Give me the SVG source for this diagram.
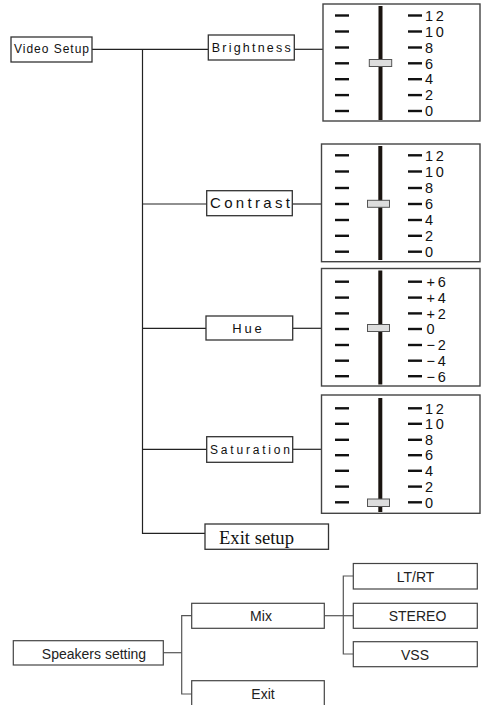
<svg xmlns="http://www.w3.org/2000/svg" width="481" height="705" viewBox="0 0 481 705">
<style>
.box{fill:#fff;stroke:#333;stroke-width:1.3}
.box2{fill:#fff;stroke:#444;stroke-width:1.2}
.panel{fill:#fff;stroke:#444;stroke-width:1.4}
.track{fill:#1a1410}
.knob{fill:#ddd;stroke:#555;stroke-width:1}
.dash{stroke:#111;stroke-width:2.4}
.conn{fill:none;stroke:#222;stroke-width:1.2}
.conn2{fill:none;stroke:#555;stroke-width:1.2}
.lbl{font-family:"Liberation Sans","DejaVu Sans",sans-serif;fill:#111}
.num{font-family:"Liberation Sans",Arial,sans-serif;font-size:14.5px;fill:#111;letter-spacing:2.8px}
.serif{font-family:"Liberation Serif","Times New Roman",serif;fill:#111}
.sp{font-family:"Liberation Sans",Arial,sans-serif;font-size:14px;fill:#222;text-anchor:middle}
</style>
<defs>
<g id="dashes">
<line class="dash" x1="335" y1="0" x2="349" y2="0"/>
<line class="dash" x1="408" y1="0" x2="422" y2="0"/>
</g>
</defs>
<g id="connectors">
<polyline class="conn" points="92,49.3 208,49.3"/>
<polyline class="conn" points="142.5,49.3 142.5,533.3 205,533.3"/>
<line class="conn" x1="142.5" y1="204" x2="207" y2="204"/>
<line class="conn" x1="142.5" y1="328.3" x2="206" y2="328.3"/>
<line class="conn" x1="142.5" y1="449.3" x2="207" y2="449.3"/>
<line class="conn" x1="294" y1="49.3" x2="323" y2="49.3"/>
<line class="conn" x1="292" y1="204" x2="321" y2="204"/>
<line class="conn" x1="292.7" y1="328.3" x2="321" y2="328.3"/>
<line class="conn" x1="292.7" y1="449.3" x2="321" y2="449.3"/>
<line class="conn2" x1="163.3" y1="652.7" x2="181.7" y2="652.7"/>
<polyline class="conn2" points="191.7,615.7 181.7,615.7 181.7,694 191.7,694"/>
<line class="conn2" x1="324.3" y1="615.7" x2="353.3" y2="615.7"/>
<polyline class="conn2" points="353.3,576 343.3,576 343.3,654 353.3,654"/>
</g>
<g id="video-setup">
<rect class="box" x="11" y="37" width="81" height="25"/>
<text class="lbl" x="14" y="52.5" font-size="12" textLength="75" lengthAdjust="spacing">Video Setup</text>
</g>
<g id="brightness">
<rect class="box" x="208.3" y="35" width="86" height="25"/>
<text class="lbl" x="211.7" y="51.5" font-size="12.5" textLength="79" lengthAdjust="spacing">Brightness</text>
</g>
<g id="contrast">
<rect class="box" x="206.7" y="190.7" width="85.6" height="25"/>
<text class="lbl" x="210" y="208.3" font-size="15" textLength="80" lengthAdjust="spacing">Contrast</text>
</g>
<g id="hue">
<rect class="box" x="206" y="316" width="86.7" height="24"/>
<text class="lbl" x="232.3" y="333.3" font-size="13" textLength="29.4" lengthAdjust="spacing">Hue</text>
</g>
<g id="saturation">
<rect class="box" x="206.7" y="436.7" width="86" height="25.6"/>
<text class="lbl" x="210" y="454" font-size="12" textLength="80" lengthAdjust="spacing">Saturation</text>
</g>
<g id="exit-setup">
<rect class="box" x="205" y="524" width="123.5" height="25.3"/>
<text class="serif" x="219" y="544" font-size="18" textLength="75" lengthAdjust="spacingAndGlyphs">Exit setup</text>
</g>
<g id="brightness-panel">
<rect class="panel" x="323" y="4" width="157" height="117"/>
<rect class="track" x="378.5" y="6" width="4" height="114"/>
<use href="#dashes" y="15.5"/><use href="#dashes" y="31.5"/><use href="#dashes" y="47.5"/><use href="#dashes" y="63.3"/><use href="#dashes" y="79.2"/><use href="#dashes" y="95.1"/><use href="#dashes" y="111"/>
<rect class="knob" x="369.3" y="59.5" width="22.4" height="7"/>
<text class="num" x="425" y="20.7">12</text><text class="num" x="425" y="36.7">10</text><text class="num" x="425" y="52.7">8</text><text class="num" x="425" y="68.5">6</text><text class="num" x="425" y="84.4">4</text><text class="num" x="425" y="100.3">2</text><text class="num" x="425" y="116.2">0</text>
</g>
<g id="contrast-panel">
<rect class="panel" x="321.5" y="144" width="158.5" height="117.7"/>
<rect class="track" x="378.3" y="146" width="4" height="114"/>
<use href="#dashes" y="155.3"/><use href="#dashes" y="171.5"/><use href="#dashes" y="188"/><use href="#dashes" y="204"/><use href="#dashes" y="220"/><use href="#dashes" y="235.8"/><use href="#dashes" y="251.7"/>
<rect class="knob" x="367.5" y="200.3" width="22" height="7"/>
<text class="num" x="425" y="160.5">12</text><text class="num" x="425" y="176.7">10</text><text class="num" x="425" y="193.2">8</text><text class="num" x="425" y="209.2">6</text><text class="num" x="425" y="225.2">4</text><text class="num" x="425" y="241">2</text><text class="num" x="425" y="256.9">0</text>
</g>
<g id="hue-panel">
<rect class="panel" x="321.5" y="268.5" width="158.5" height="117.5"/>
<rect class="track" x="378.3" y="270.5" width="4" height="114"/>
<use href="#dashes" y="281.7"/><use href="#dashes" y="297.6"/><use href="#dashes" y="313.4"/><use href="#dashes" y="329"/><use href="#dashes" y="345"/><use href="#dashes" y="360.7"/><use href="#dashes" y="376.2"/>
<rect class="knob" x="367.5" y="324.5" width="22" height="7"/>
<text class="num" x="426.5" y="286.9">+6</text><text class="num" x="426.5" y="302.8">+4</text><text class="num" x="426.5" y="318.6">+2</text><text class="num" x="426.5" y="334.2">0</text><text class="num" x="426.5" y="350.2">−2</text><text class="num" x="426.5" y="365.8">−4</text><text class="num" x="426.5" y="381.6">−6</text>
</g>
<g id="saturation-panel">
<rect class="panel" x="321.5" y="395" width="158.5" height="118.3"/>
<rect class="track" x="378.3" y="398" width="4" height="114"/>
<use href="#dashes" y="408.3"/><use href="#dashes" y="423.8"/><use href="#dashes" y="439.8"/><use href="#dashes" y="455.2"/><use href="#dashes" y="470.8"/><use href="#dashes" y="486.6"/><use href="#dashes" y="502.3"/>
<rect class="knob" x="367.5" y="499" width="22" height="7.5"/>
<text class="num" x="425" y="413.5">12</text><text class="num" x="425" y="429">10</text><text class="num" x="425" y="445">8</text><text class="num" x="425" y="460.4">6</text><text class="num" x="425" y="476">4</text><text class="num" x="425" y="491.8">2</text><text class="num" x="425" y="507.5">0</text>
</g>
<g id="speakers-setting">
<rect class="box2" x="13.3" y="640.7" width="150" height="24.3"/>
<text class="sp" x="94" y="658.5">Speakers setting</text>
</g>
<g id="mix">
<rect class="box2" x="191.7" y="603.3" width="132.6" height="25"/>
<text class="sp" x="261" y="620.5">Mix</text>
</g>
<g id="exit">
<rect class="box2" x="191.7" y="680.7" width="132.6" height="30"/>
<text class="sp" x="263" y="699">Exit</text>
</g>
<g id="ltrt">
<rect class="box2" x="353.3" y="563.5" width="124" height="25.5"/>
<text class="sp" x="415.5" y="581.5">LT/RT</text>
</g>
<g id="stereo">
<rect class="box2" x="353.3" y="603.3" width="124" height="25"/>
<text class="sp" x="417.5" y="621">STEREO</text>
</g>
<g id="vss">
<rect class="box2" x="353.3" y="641.7" width="124" height="25"/>
<text class="sp" x="415" y="659.5">VSS</text>
</g>
</svg>
